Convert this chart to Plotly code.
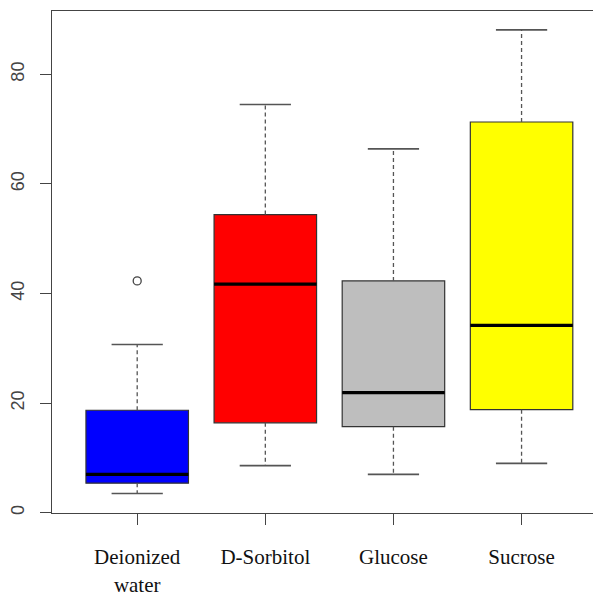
import plotly.graph_objects as go

# ---- data ----
categories = ["Deionized<br>water", "D-Sorbitol", "Glucose", "Sucrose"]
lower_whisker = [3.5, 8.6, 7.0, 9.0]
q1_values = [5.4, 16.4, 15.7, 18.8]
medians = [7.0, 41.7, 21.9, 34.2]
q3_values = [18.7, 54.4, 42.3, 71.3]
upper_whisker = [30.7, 74.5, 66.4, 88.1]
outlier_groups = [1]
outlier_values = [42.3]
fill_colors = ["#0000FF", "#FF0000", "#BEBEBE", "#FFFF00"]
y_ticks = [0, 20, 40, 60, 80]

positions = list(range(1, len(categories) + 1))
BOX_W = 0.8
CAP_W = 0.4

fig = go.Figure()

# whiskers (dashed) and caps
for p, lo, q1, q3, hi in zip(positions, lower_whisker, q1_values, q3_values, upper_whisker):
    fig.add_trace(go.Scatter(x=[p, p, None, p, p], y=[q3, hi, None, q1, lo], mode="lines",
                             line=dict(color="#555555", width=1.3, dash="4px,3px"),
                             hoverinfo="skip", showlegend=False))
    fig.add_trace(go.Scatter(x=[p - CAP_W / 2, p + CAP_W / 2, None, p - CAP_W / 2, p + CAP_W / 2],
                             y=[hi, hi, None, lo, lo], mode="lines",
                             line=dict(color="#555555", width=1.6),
                             hoverinfo="skip", showlegend=False))

# boxes
for p, q1, med, q3, col in zip(positions, q1_values, medians, q3_values, fill_colors):
    fig.add_trace(go.Box(x=[p], q1=[q1], median=[med], q3=[q3], lowerfence=[q1], upperfence=[q3],
                         width=BOX_W, fillcolor=col, line=dict(color="#333333", width=1.2),
                         boxpoints=False, whiskerwidth=0, showlegend=False))

# thick medians
for p, med in zip(positions, medians):
    fig.add_trace(go.Scatter(x=[p - BOX_W / 2, p + BOX_W / 2], y=[med, med], mode="lines",
                             line=dict(color="black", width=3.2),
                             hoverinfo="skip", showlegend=False))

# outliers
fig.add_trace(go.Scatter(x=outlier_groups, y=outlier_values, mode="markers",
                         marker=dict(symbol="circle-open", size=8, color="#444444",
                                     line=dict(width=1.3)),
                         showlegend=False))

fig.update_layout(
    width=593, height=590,
    margin=dict(l=44, r=0, t=3, b=85),
    paper_bgcolor="white", plot_bgcolor="white",
    showlegend=False,
)
fig.update_xaxes(range=[0.335, 4.62], tickvals=positions, ticktext=categories,
                 automargin=False,
                 showgrid=False, zeroline=False, showline=True, linecolor="#444444",
                 linewidth=1.3, mirror=True, ticks="outside", ticklen=11, tickwidth=1.3,
                 tickcolor="#444444", ticklabelstandoff=14,
                 tickfont=dict(family="Liberation Serif", size=21, color="#111111"))
fig.update_yaxes(range=[-0.05, 91.55], tickvals=y_ticks, ticktext=[str(v) for v in y_ticks],
                 automargin=False,
                 showgrid=False, zeroline=False, showline=True, linecolor="#444444",
                 linewidth=1.3, ticks="outside", ticklen=11, tickwidth=1.3,
                 tickcolor="#444444", tickangle=-90, ticklabelstandoff=9,
                 tickfont=dict(family="Liberation Sans", size=18, color="#444444"))

fig.write_html("out.html")
